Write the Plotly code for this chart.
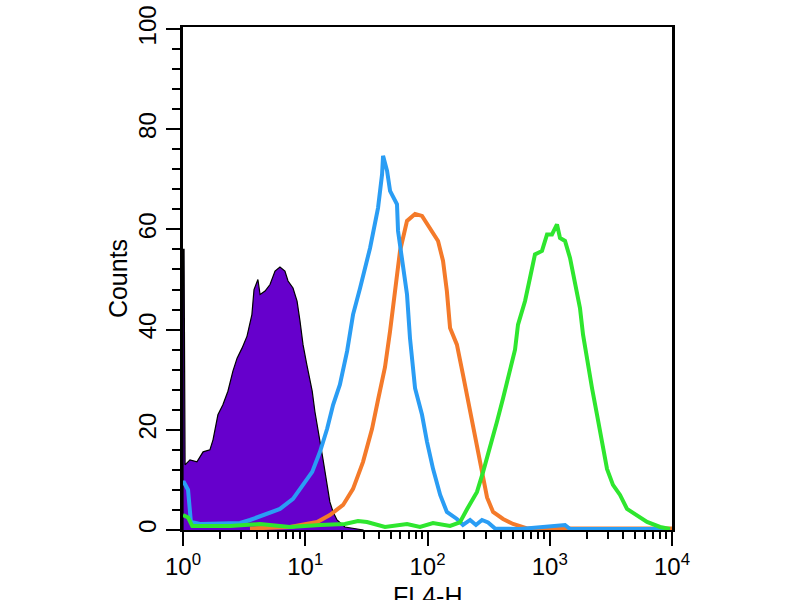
import plotly.graph_objects as go

# =========================================================
# DATA  (FL4-H channel value, counts)
# =========================================================
control_fl4 = [1.0, 1.0, 1.02, 1.04, 1.14, 1.30, 1.46, 1.66, 1.76, 1.93, 2.12, 2.33,
               2.56, 2.77, 3.04, 3.34, 3.66, 3.81, 4.10, 4.27, 4.69, 5.15, 5.66,
               6.21, 6.82, 7.23, 7.94, 8.57, 9.06, 9.59, 10.3, 11.4, 12.0, 13.2,
               14.0, 15.1, 15.9, 16.9, 18.2, 21.1, 25.5, 30.0]
control_counts = [0, 56, 56, 13, 14, 13.6, 15.6, 16, 18, 23, 25, 27.7,
                  31.7, 34.3, 36.3, 38.7, 43, 48, 50, 47, 47.7, 49, 51.7,
                  52.5, 51.7, 49.7, 48.3, 45.7, 41.7, 37, 33, 27.7, 23.6, 18,
                  14, 9, 5.6, 3.6, 2, 0.6, 0.3, 0]

blue_fl4 = [1.0, 1.02, 1.10, 1.16, 1.38, 2.01, 2.93, 3.53, 4.51, 6.21, 7.94, 9.59,
            11.4, 13.2, 15.1, 16.9, 19.2, 22.0, 24.6, 28.1, 33.9, 39.4, 42.5,
            43.3, 46.7, 49.4, 56.3, 57.4, 63.1, 68.0, 71.9, 79.1, 90.2, 99.1,
            111, 127, 144, 174, 195, 223, 249, 279, 313, 357, 571, 1333, 1465, 9630]
blue_counts = [9.5, 9.5, 8, 1.6, 1.2, 1.2, 1.4, 2, 3, 4.2, 6.2, 9,
               11.6, 15.6, 20.2, 25, 29, 35.7, 43, 48.3, 56.3, 64.3, 71,
               74.7, 71.7, 67.7, 65, 59.7, 52.3, 47, 38.3, 28.3, 23, 17.6,
               12.2, 7, 3.6, 2.2, 1, 2, 1, 2, 1.5, 0.3, 0.2, 1, 0.2, 0.2]

orange_fl4 = [3.53, 7.50, 12.5, 15.9, 20.4, 24.6, 29.7, 35.2, 39.4, 44.9, 49.4,
              54.2, 59.6, 68.0, 79.1, 90.2, 105, 122, 134, 144, 153, 174, 195,
              223, 254, 279, 307, 344, 415, 501, 652, 10000]
orange_counts = [0.3, 0.6, 1.6, 3, 5, 8.2, 13.6, 20.2, 26, 32.5, 39.7,
                 48.3, 55.7, 61.7, 63.1, 62.7, 60.3, 57.7, 53.7, 47.7, 40.3, 37, 31,
                 24, 17, 11.5, 6.5, 3.6, 2.2, 1.2, 0.3, 0.3]

green_fl4 = [1.0, 1.10, 1.19, 2.42, 4.27, 7.50, 13.2, 21.1, 27.0, 32.0, 44.9, 68.0,
             86.8, 111, 153, 184, 211, 254, 285, 324, 370, 415, 473, 520, 550,
             628, 689, 757, 864, 950, 1043, 1146, 1213, 1333, 1465, 1610, 1767,
             1872, 2018, 2218, 2437, 2675, 2940, 3289, 3758, 4285, 5176, 6252,
             7980, 9630]
green_counts = [3, 2.5, 0.8, 0.8, 1.2, 0.6, 1.0, 1.2, 1.8, 1.6, 0.6, 1.2,
                0.6, 1.4, 0.8, 1.5, 4.2, 7.6, 11.6, 16.2, 21.6, 26.3, 31.7, 36, 41,
                45.7, 50.3, 55, 55.7, 59, 59, 61, 58.3, 57.7, 54.3, 49.7, 44.3,
                39, 33.7, 28.3, 23, 17.6, 12.2, 9, 7, 4.2, 3, 1.6,
                0.6, 0.2]

x_tickvals = [1, 10, 100, 1000, 10000]
x_ticktext = ["10<sup>0</sup>", "10<sup>1</sup>", "10<sup>2</sup>",
              "10<sup>3</sup>", "10<sup>4</sup>"]
x_minorvals = [m * 10 ** d for d in range(4) for m in range(2, 10)]

FONT = "Liberation Sans, Arial, sans-serif"

fig = go.Figure()

fig.add_trace(go.Scatter(
    x=control_fl4, y=control_counts, mode="lines",
    line=dict(color="black", width=1.2),
    fill="tozeroy", fillcolor="#6600cc",
    showlegend=False,
))
fig.add_trace(go.Scatter(
    x=orange_fl4, y=orange_counts, mode="lines",
    line=dict(color="#f47a2a", width=4),
    showlegend=False,
))
fig.add_trace(go.Scatter(
    x=blue_fl4, y=blue_counts, mode="lines",
    line=dict(color="#2a9df4", width=4),
    showlegend=False,
))
fig.add_trace(go.Scatter(
    x=green_fl4, y=green_counts, mode="lines",
    line=dict(color="#2ee62e", width=4),
    showlegend=False,
))

fig.update_layout(
    width=800, height=600,
    margin=dict(l=183, r=128, t=27, b=70),
    paper_bgcolor="white",
    plot_bgcolor="white",
    font=dict(family=FONT, size=24, color="black"),
    xaxis=dict(
        type="log",
        range=[0, 4],
        automargin=False,
        tickmode="array",
        tickvals=x_tickvals,
        ticktext=x_ticktext,
        ticks="outside", ticklen=14, tickwidth=2, tickcolor="black",
        minor=dict(tickmode="array", tickvals=x_minorvals, ticks="outside",
                   ticklen=7, tickwidth=2, tickcolor="black"),
        showline=True, linewidth=2, linecolor="black", mirror=True,
        showgrid=False, zeroline=False,
        tickfont=dict(size=24),
        ticklabeloverflow="allow",
    ),
    yaxis=dict(
        range=[0, 100.4],
        automargin=False,
        tickmode="linear", tick0=0, dtick=20,
        tickangle=-90,
        ticks="outside", ticklen=14, tickwidth=2, tickcolor="black",
        minor=dict(dtick=4, ticks="outside", ticklen=8, tickwidth=2,
                   tickcolor="black"),
        showline=True, linewidth=3, linecolor="black", mirror=True,
        showgrid=False, zeroline=False,
        tickfont=dict(size=24),
        ticklabeloverflow="allow",
        title=dict(text="Counts", font=dict(size=25), standoff=0),
    ),
)

# x title sits low, partly past the bottom edge as in the source image
fig.add_annotation(
    text="FL4-H", xref="paper", yref="paper", x=0.5, y=0,
    xanchor="center", yanchor="top", yshift=-50, showarrow=False,
    font=dict(size=25),
)

# drop the default body margin so the 800x600 figure sits at the page origin
fig.write_html(
    "out.html",
    config={"displayModeBar": False},
    post_script="document.body.style.margin = '0';",
)
